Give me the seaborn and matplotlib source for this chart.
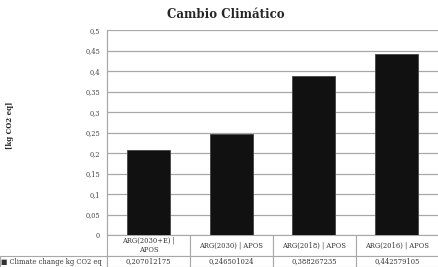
import seaborn as sns
import matplotlib.pyplot as plt
import pandas as pd

# data
categories = ["ARG(2030+E) |\nAPOS", "ARG(2030) | APOS", "ARG(2018) | APOS", "ARG(2016) | APOS"]
values = [0.207012175, 0.246501024, 0.388267235, 0.442579105]
yticks = [0, 0.05, 0.1, 0.15, 0.2, 0.25, 0.3, 0.35, 0.4, 0.45, 0.5]
series_label = "Climate change kg CO2 eq"

df = pd.DataFrame({"cat": categories, "val": values})

sns.set_style("white")
plt.rcParams["font.family"] = ["DejaVu Serif", "DejaVu Sans"]

fig = plt.figure(figsize=(4.38, 2.67), dpi=100)
W, H = 438, 267
ax = fig.add_axes([107 / W, 1 - 235 / H, 331 / W, 205 / H])

sns.barplot(data=df, x="cat", y="val", color="#111111", width=0.52,
            edgecolor="#444444", linewidth=0.6, ax=ax, zorder=3)

ax.set_ylim(0, 0.5)
ax.set_yticks(yticks)
ax.set_yticklabels([("%g" % t).replace(".", ",") for t in yticks],
                   fontsize=4.8, color="#444444")
ax.tick_params(axis="y", length=0, pad=5)
ax.set_xticks([])
ax.set_xlabel("")
ax.set_ylabel("")
ax.grid(axis="y", color="#a8a8a8", linewidth=0.9, zorder=0)
for s in ["top", "right", "bottom"]:
    ax.spines[s].set_visible(False)
ax.spines["left"].set_color("#a8a8a8")
ax.spines["left"].set_linewidth(0.9)

fig.text(0.5 + 0.015, 1 - 14 / H, "Cambio Climático", ha="center", va="center",
         fontsize=8.5, fontweight="bold")
fig.text(10 / W, 1 - 125 / H, "[kg CO2 eq]", rotation=90, ha="center", va="center",
         fontsize=5, fontweight="bold")

# data table under the axes
cell_text = [["\u25a0 " + series_label] + [("%.9f" % v).replace(".", ",") for v in values]]
col_labels = [""] + categories
tot = 107 + 4 * 83
tab = ax.table(cellText=cell_text, colLabels=col_labels,
               colWidths=[107 / tot] + [83 / tot] * 4,
               cellLoc="center", bbox=[-107 / 331, -32 / 205, tot / 331, 32 / 205])
tab.auto_set_font_size(False)
for (r, c), cell in tab.get_celld().items():
    cell.set_edgecolor("#a8a8a8")
    cell.set_linewidth(0.8)
    cell.get_text().set_fontsize(4.9)
    cell.get_text().set_color("#333333")
    cell.set_height(21 if r == 0 else 11)
    if r == 0 and c == 0:
        cell.set_visible(False)
    if r == 1 and c == 0:
        cell.get_text().set_ha("left")
        cell.PAD = 0.01

fig.savefig("out.png", dpi=100)
